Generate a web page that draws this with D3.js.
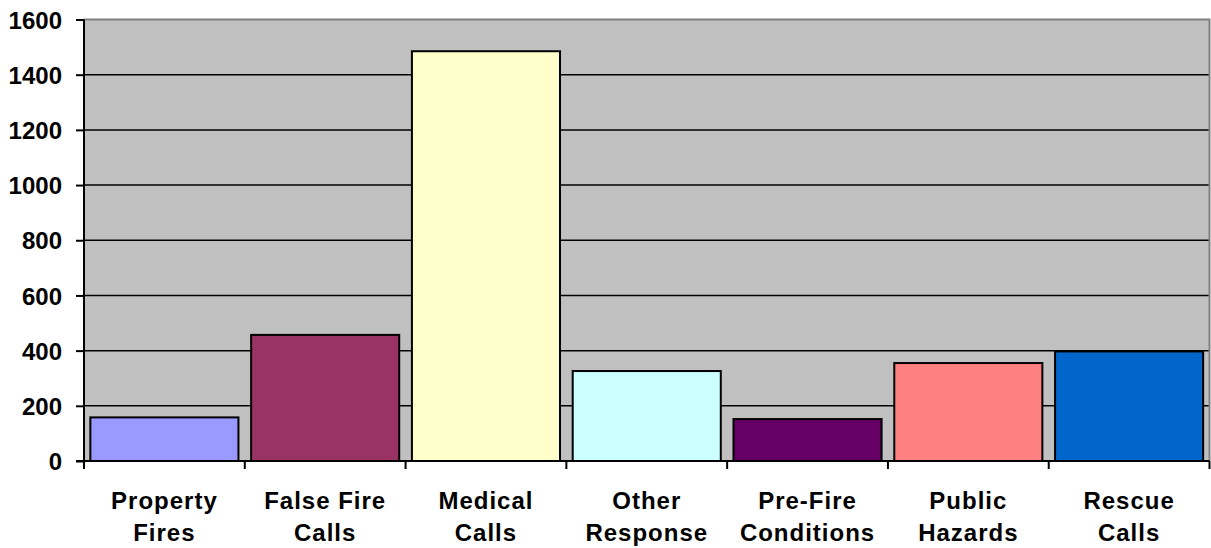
<!DOCTYPE html>
<html>
<head>
<meta charset="utf-8">
<script src="https://cdn.jsdelivr.net/npm/d3@7"></script>
<style>
  body { margin: 0; background: #fff; }
  svg { display: block; }
  text { font-family: "Liberation Sans", Arial, sans-serif; font-weight: bold; fill: #000; }
</style>
</head>
<body>
<svg id="svg" width="1211" height="548"></svg>
<script>
/* global d3 */

// chart data
const categories = [
  ["Property", "Fires"],
  ["False Fire", "Calls"],
  ["Medical", "Calls"],
  ["Other", "Response"],
  ["Pre-Fire", "Conditions"],
  ["Public", "Hazards"],
  ["Rescue", "Calls"]
];
const calls = [158, 457, 1485, 326, 152, 355, 397];
const barColors = ["#9999ff", "#993366", "#ffffcc", "#ccffff", "#660066", "#ff8080", "#0066cc"];
const yTicks = [0, 200, 400, 600, 800, 1000, 1200, 1400, 1600];

const plotLeft = 84;
const plotRight = 1209.5;
const plotTop = 19.5;
const plotBottom = 461;

const svg = d3.select("#svg");

const x = d3
  .scaleBand()
  .domain(d3.range(categories.length))
  .range([plotLeft, plotRight])
  .paddingInner(0.079)
  .paddingOuter(0.0395);

const step = (plotRight - plotLeft) / categories.length;

const y = d3.scaleLinear().domain([0, 1600]).range([plotBottom, plotTop]);

// plot background
svg
  .append("rect")
  .attr("x", plotLeft)
  .attr("y", plotTop)
  .attr("width", plotRight - plotLeft)
  .attr("height", plotBottom - plotTop)
  .attr("fill", "#c0c0c0");

// gridlines
svg
  .append("g")
  .selectAll("line")
  .data(yTicks.filter(d => d > 0 && d < 1600))
  .join("line")
  .attr("x1", plotLeft)
  .attr("x2", plotRight)
  .attr("y1", d => y(d))
  .attr("y2", d => y(d))
  .attr("stroke", "#000")
  .attr("stroke-width", 1.5);

// plot border (top + right in gray)
svg
  .append("path")
  .attr("d", `M${plotLeft},${plotTop}H${plotRight}V${plotBottom}`)
  .attr("fill", "none")
  .attr("stroke", "#808080")
  .attr("stroke-width", 2);

// bars
svg
  .append("g")
  .selectAll("rect")
  .data(calls)
  .join("rect")
  .attr("x", (d, i) => x(i))
  .attr("y", d => y(d))
  .attr("width", x.bandwidth())
  .attr("height", d => y(0) - y(d))
  .attr("fill", (d, i) => barColors[i])
  .attr("stroke", "#000")
  .attr("stroke-width", 2);

// y axis
const yAxis = svg
  .append("g")
  .attr("transform", `translate(${plotLeft},0)`)
  .call(
    d3
      .axisLeft(y)
      .tickValues(yTicks)
      .tickSize(8)
      .tickPadding(14)
      .tickFormat(d3.format("d"))
  );
yAxis.select(".domain").attr("stroke", "#000").attr("stroke-width", 2).attr("d", `M0,${plotTop}V${plotBottom}`);
yAxis.selectAll(".tick line").attr("stroke", "#000").attr("stroke-width", 2);
yAxis
  .selectAll(".tick text")
  .style("font-size", "24px")
  .attr("dy", "0.36em");

// x axis with ticks at category boundaries
const xAxis = svg.append("g");
xAxis
  .append("line")
  .attr("x1", plotLeft - 8)
  .attr("x2", plotRight)
  .attr("y1", plotBottom)
  .attr("y2", plotBottom)
  .attr("stroke", "#000")
  .attr("stroke-width", 2);
xAxis
  .selectAll("line.tk")
  .data(d3.range(categories.length + 1))
  .join("line")
  .attr("class", "tk")
  .attr("x1", i => plotLeft + i * step)
  .attr("x2", i => plotLeft + i * step)
  .attr("y1", plotBottom)
  .attr("y2", plotBottom + 8)
  .attr("stroke", "#000")
  .attr("stroke-width", 2);

const labels = xAxis
  .selectAll("text")
  .data(categories)
  .join("text")
  .attr("text-anchor", "middle")
  .style("font-size", "24px")
  .style("letter-spacing", "1px");
labels
  .selectAll("tspan")
  .data((d, i) => d.map(s => ({ s, i })))
  .join("tspan")
  .attr("x", d => plotLeft + (d.i + 0.5) * step)
  .attr("y", (d, j) => 508.5 + j * 32)
  .text(d => d.s);
</script>
</body>
</html>
